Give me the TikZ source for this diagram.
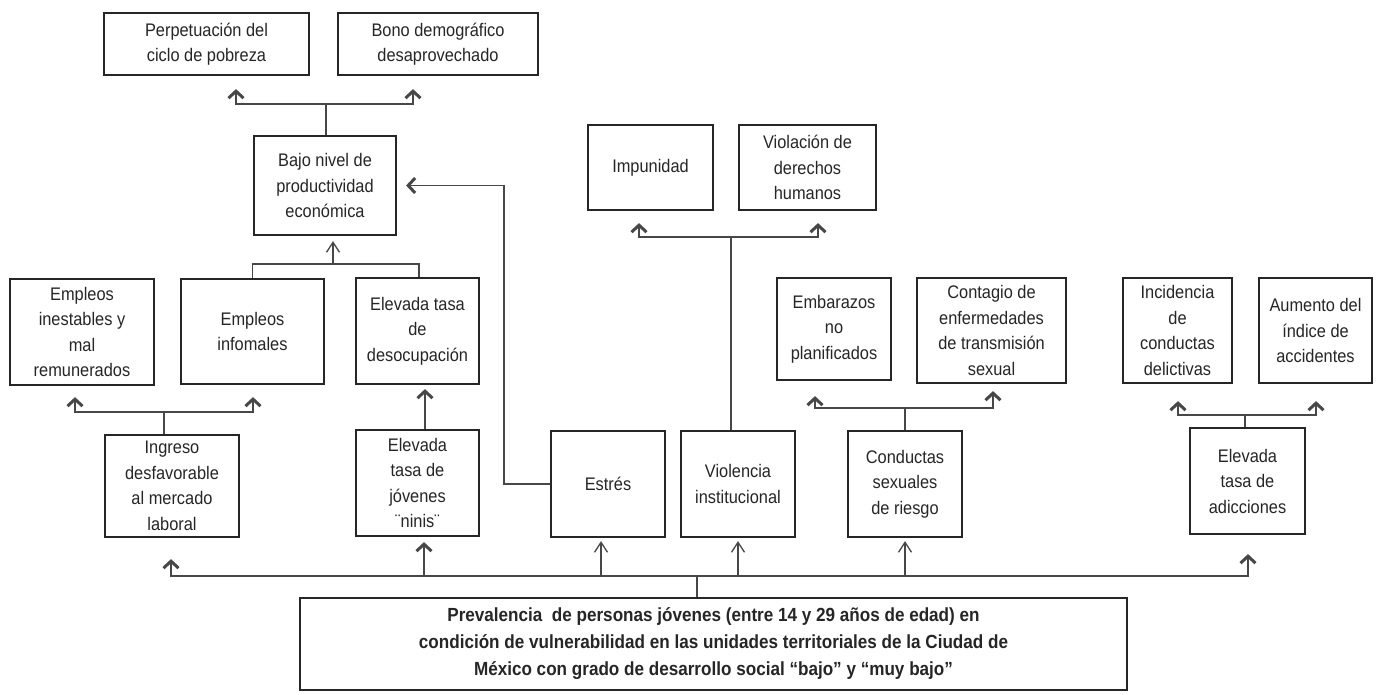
\documentclass[tikz,border=0pt]{standalone}
\usepackage{fontspec}
\setmainfont[FakeStretch=0.9]{Liberation Sans}
\usetikzlibrary{arrows.meta}
\begin{document}
\begin{tikzpicture}[x=1pt,y=-1pt,
  box/.style={draw=black!85, line width=2.2pt, align=center, inner sep=0pt, font=\fontsize{18.2}{25.5}\selectfont, text=black!85},
  conn/.style={draw=black!72, line width=1.6pt},
  chev/.style={conn, -{Straight Barb[length=7pt,width=15pt,line width=3pt]}},
  thinarr/.style={conn, -{Straight Barb[length=10pt,width=13pt,line width=1.3pt]}},
]
\useasboundingbox (0,0) rectangle (1377,694);
\fill[white] (0,0) rectangle (1377,694);

% top-left
\node[box, minimum width=205pt, minimum height=62pt] (perp) at (206.5,44) {Perpetuación del\\ciclo de pobreza};
\node[box, minimum width=200pt, minimum height=62pt] (bono) at (438,44) {Bono demográfico\\desaprovechado};
\node[box, minimum width=142pt, minimum height=99pt] (bajo) at (325,185.5) {Bajo nivel de\\productividad\\económica};

\node[box, minimum width=144pt, minimum height=106pt] (inest) at (82,332) {Empleos\\inestables y\\mal\\remunerados};
\node[box, minimum width=143pt, minimum height=105pt] (infor) at (252.5,331.5) {Empleos\\infomales};
\node[box, minimum width=123pt, minimum height=106pt] (desoc) at (417.5,331) {Elevada tasa\\de\\desocupación};

\node[box, minimum width=134pt, minimum height=102pt] (ingreso) at (172,486) {Ingreso\\desfavorable\\al mercado\\laboral};
\node[box, minimum width=123pt, minimum height=106pt] (ninis) at (417.5,483) {Elevada\\tasa de\\jóvenes\\¨ninis¨};
\node[box, minimum width=114pt, minimum height=106pt] (estres) at (608,484) {Estrés};
\node[box, minimum width=114pt, minimum height=106pt] (viol) at (738,484) {Violencia\\institucional};
\node[box, minimum width=114pt, minimum height=106pt] (conduct) at (905,484) {Conductas\\sexuales\\de riesgo};
\node[box, minimum width=115pt, minimum height=106pt] (adic) at (1247.5,481) {Elevada\\tasa de\\adicciones};

\node[box, minimum width=125pt, minimum height=85pt] (impun) at (650.5,167.5) {Impunidad};
\node[box, minimum width=137pt, minimum height=85pt] (violac) at (807.5,167.5) {Violación de\\derechos\\humanos};

\node[box, minimum width=114pt, minimum height=102pt] (embar) at (834,329) {Embarazos\\no\\planificados};
\node[box, minimum width=149pt, minimum height=105pt] (contag) at (991.5,330.5) {Contagio de\\enfermedades\\de transmisión\\sexual};
\node[box, minimum width=109pt, minimum height=105pt] (incid) at (1177.5,330.5) {Incidencia\\de\\conductas\\delictivas};
\node[box, minimum width=113pt, minimum height=105pt] (aument) at (1315.5,330.5) {Aumento del\\índice de\\accidentes};

\node[box, minimum width=827pt, minimum height=92pt, font=\bfseries\fontsize{19}{27}\selectfont] (main) at (713.5,644)
  {Prevalencia\ \ de personas jóvenes (entre 14 y 29 años de edad) en\\condición de vulnerabilidad en las unidades territoriales de la Ciudad de\\México con grado de desarrollo social “bajo” y “muy bajo”};

% junctions
\coordinate (j1) at (326,104);
\coordinate (j2) at (333,264);
\coordinate (j3) at (164,412);
\coordinate (j4) at (731,237);
\coordinate (j5) at (905,408);
\coordinate (j6) at (1245,415);
\coordinate (bus) at (697,576);

% bajo -> perp, bono
\draw[conn] ([xshift=1pt]bajo.north) -- (j1);
\draw[chev, shorten >=13pt] (j1) -| ([xshift=29.5pt]perp.south);
\draw[chev, shorten >=13pt] (j1) -| ([xshift=-25pt]bono.south);

% infor, desoc -> bajo
\draw[conn] (infor.north) |- (j2) -| ([xshift=1.5pt]desoc.north);
\draw[thinarr, shorten >=5pt] (j2) -- ([xshift=8pt]bajo.south);

% ingreso -> inest, infor
\draw[conn] ([xshift=-8pt]ingreso.north) -- (j3);
\draw[chev, shorten >=11pt] (j3) -| ([xshift=-7pt]inest.south);
\draw[chev, shorten >=12pt] (j3) -| ([xshift=0.5pt]infor.south);

% ninis -> desoc
\draw[chev, shorten >=4pt] ([xshift=7.5pt]ninis.north) -- ([xshift=7.5pt]desoc.south);

% estres -> bajo
\draw[chev, shorten >=9pt] (estres.west) -| ([xshift=107pt]bajo.east) -- (bajo.east);

% violencia -> impunidad, violacion
\draw[conn] ([xshift=-7pt]viol.north) -- (j4);
\draw[chev, shorten >=12pt] (j4) -| ([xshift=-11.5pt]impun.south);
\draw[chev, shorten >=12pt] (j4) -| ([xshift=10.5pt]violac.south);

% conductas -> embarazos, contagio
\draw[conn] (conduct.north) -- (j5);
\draw[chev, shorten >=15pt] (j5) -| ([xshift=-19pt]embar.south);
\draw[chev, shorten >=7pt] (j5) -| ([xshift=1.5pt]contag.south);

% adicciones -> incidencia, aumento
\draw[conn] ([xshift=-2.5pt]adic.north) -- (j6);
\draw[chev, shorten >=17pt] (j6) -| ([xshift=0.5pt]incid.south);
\draw[chev, shorten >=17pt] (j6) -| ([xshift=0.5pt]aument.south);

% main -> bus
\draw[conn] ([xshift=-16.5pt]main.north) -- (bus);
\draw[chev, shorten >=21pt] (bus) -| ([xshift=-1pt]ingreso.south);
\draw[chev, shorten >=5pt] (bus) -| ([xshift=6.5pt]ninis.south);
\draw[thinarr, shorten >=3pt] (bus) -| ([xshift=-7pt]estres.south);
\draw[thinarr, shorten >=3pt] (bus) -| (viol.south);
\draw[thinarr, shorten >=3pt] (bus) -| (conduct.south);
\draw[chev, shorten >=19pt] (bus) -| ([xshift=0.5pt]adic.south);
\end{tikzpicture}
\end{document}
